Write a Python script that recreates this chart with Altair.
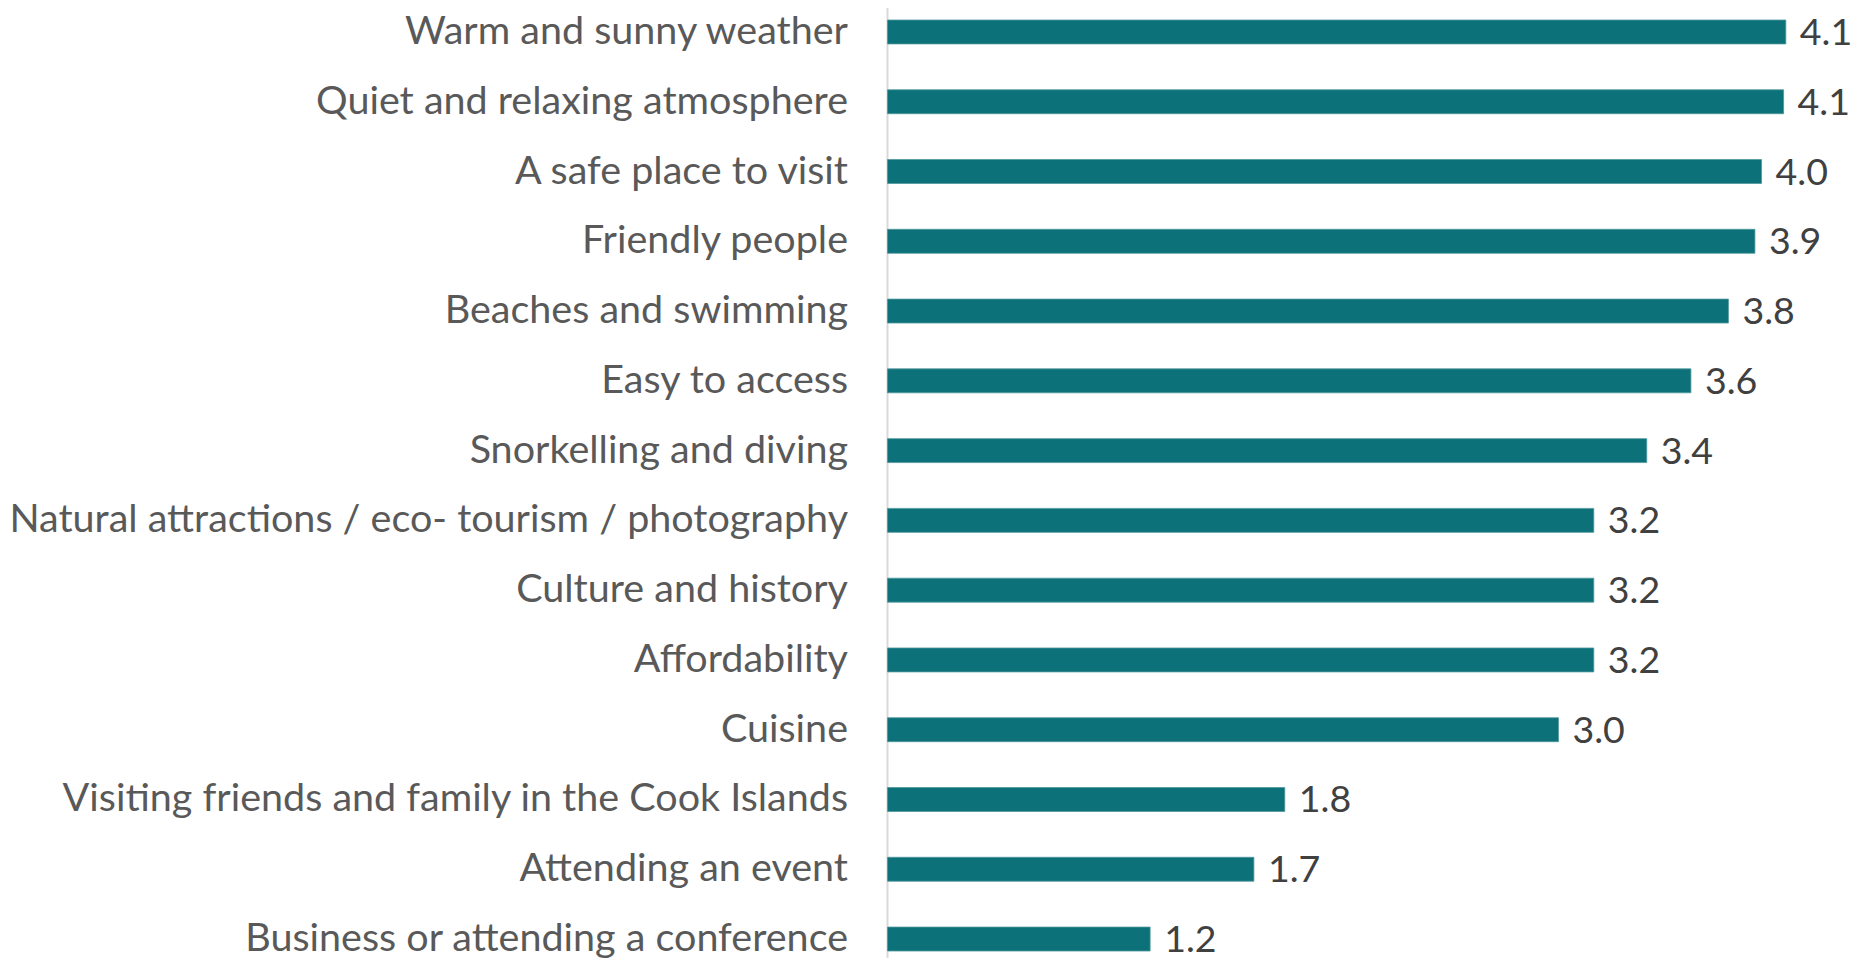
import altair as alt
import pandas as pd

categories = [
    "Warm and sunny weather",
    "Quiet and relaxing atmosphere",
    "A safe place to visit",
    "Friendly people",
    "Beaches and swimming",
    "Easy to access",
    "Snorkelling and diving",
    "Natural attractions / eco- tourism / photography",
    "Culture and history",
    "Affordability",
    "Cuisine",
    "Visiting friends and family in the Cook Islands",
    "Attending an event",
    "Business or attending a conference",
]
values = [4.07, 4.06, 3.96, 3.93, 3.81, 3.64, 3.44, 3.20, 3.20, 3.20, 3.04, 1.80, 1.66, 1.19]

df = pd.DataFrame({"category": categories, "value": values})

FONT = "Lato"
FS = 39.5
VFS = 37.5
BAR = "#0C7179"
H = 950
W = 927
LEFT = 879.5
TOTAL_W = 1847

y_enc = alt.Y(
    "category:N",
    sort=categories,
    scale=alt.Scale(range=[12, 943], paddingInner=0.657, paddingOuter=0),
    axis=alt.Axis(
        title=None,
        ticks=False,
        domain=False,
        labelFont=FONT,
        labelFontSize=FS,
        labelColor="#595959",
        labelPadding=40,
        labelLimit=1000,
    ),
)
x_enc = alt.X("value:Q", scale=alt.Scale(domain=[0, 4.2], nice=False, zero=True), axis=None)

base = alt.Chart(df)

bars = base.mark_bar(color=BAR, stroke="#4f979c", strokeWidth=0.8).encode(x=x_enc, y=y_enc)

labels = base.mark_text(
    align="left", baseline="middle", dx=14, dy=2, font=FONT, fontSize=VFS, color="#404040"
).encode(x=x_enc, y=y_enc, text=alt.Text("value:Q", format=".1f"))

axis_line = alt.Chart(pd.DataFrame({"a": [0]})).mark_rule(color="#D9D9D9", strokeWidth=2).encode(
    x=alt.value(0), y=alt.value(-8), y2=alt.value(H)
)

chart = (
    alt.layer(axis_line, bars, labels)
    .properties(
        width=W,
        height=H,
        autosize=alt.AutoSizeParams(type="none"),
        padding={"left": LEFT, "top": 0, "right": TOTAL_W - LEFT - W, "bottom": 0},
    )
    .configure_view(stroke=None)
)

chart.save("out.html", embed_options={"renderer": "svg", "actions": False})
